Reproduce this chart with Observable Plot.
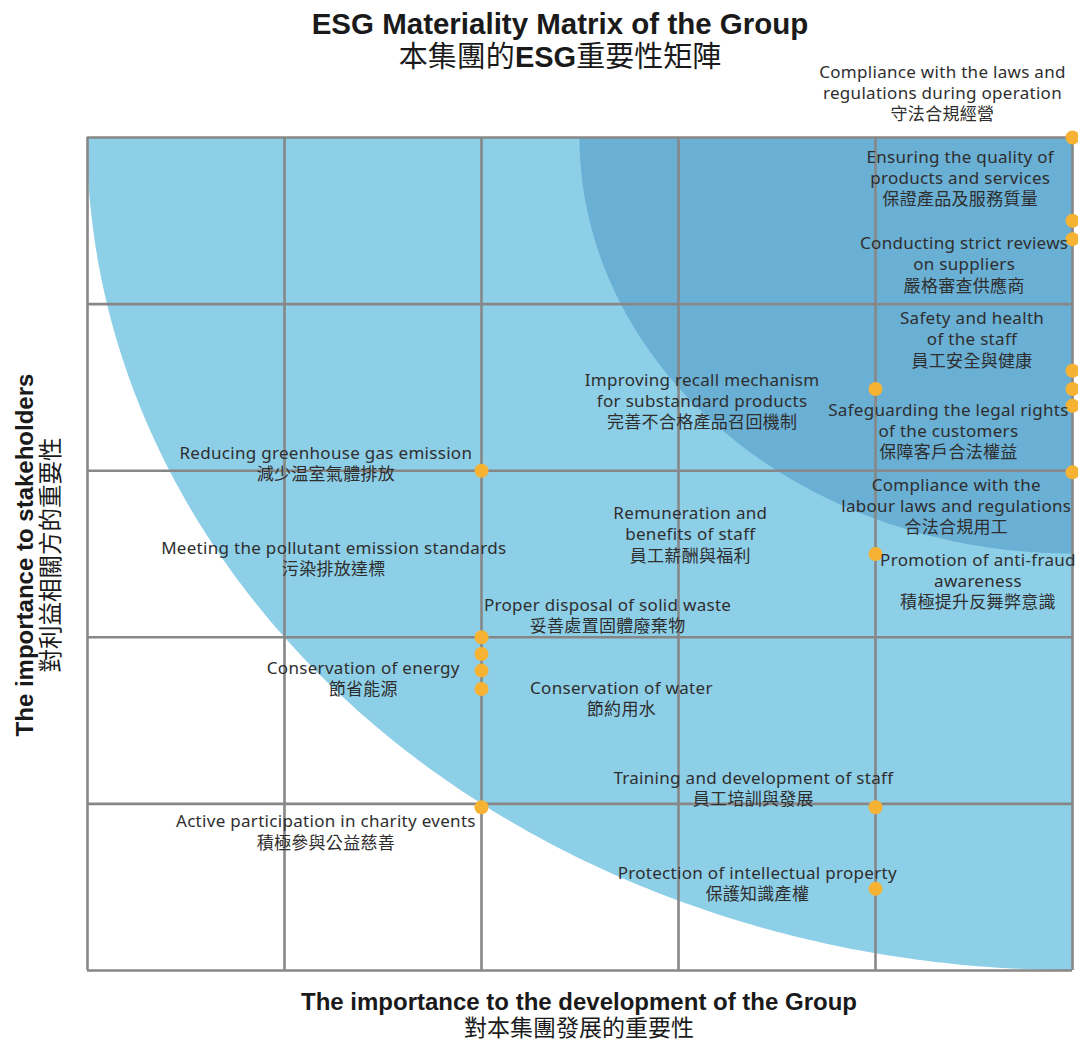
<!DOCTYPE html>
<html><head><meta charset="utf-8">
<script src="https://cdn.jsdelivr.net/npm/d3@7"></script>
<script src="https://cdn.jsdelivr.net/npm/@observablehq/plot@0.6"></script>
<style>
body{margin:0;background:#fff;}
#wrap{position:relative;width:1078px;height:1042px;font-family:"Liberation Sans",Arial,sans-serif;color:#1a1a1a;overflow:hidden;}
#chart{position:absolute;left:0;top:0;}
#chart svg text{letter-spacing:0.3px;}
.t{position:absolute;text-align:center;font-weight:bold;white-space:nowrap;}
.zh{font-family:"Noto Sans CJK TC","Liberation Sans",sans-serif;font-weight:normal;}
</style>
</head><body>
<div id="wrap">
  <div id="chart"></div>
  <div class="t" style="left:0;width:1120px;top:8px;font-size:29.5px;line-height:31px;">ESG Materiality Matrix of the Group<br><span class="zh" style="font-size:29px;">本集團的<b style="font-family:'Liberation Sans',Arial,sans-serif;">ESG</b>重要性矩陣</span></div>
  <div class="t" style="left:-213px;top:530px;width:500px;font-size:24px;line-height:25px;transform:rotate(-90deg);transform-origin:250px 25px;">The importance to stakeholders<br><span class="zh" style="font-size:23.5px;">對利益相關方的重要性</span></div>
  <div class="t" style="left:279px;top:989px;width:600px;font-size:24px;line-height:25px;">The importance to the development of the Group<br><span class="zh" style="font-size:23px;">對本集團發展的重要性</span></div>
</div>
<script>
// grid ticks (importance scale 0–5)
const xTicks = [0, 1, 2, 3, 4, 5];
const yTicks = [0, 1, 2, 3, 4, 5];

// background bands: quarter circles around the top-right corner
const bandNames = ["outer", "inner"];
const bandRadius = [5, 2.5];
const bandFill = ["#8ecfe8", "#6aafd4"];
const bandCenterX = 5, bandCenterY = 5;

// material issues (dots)
const pointX = [5, 5, 5, 5, 5, 5, 5, 4, 4, 2, 2, 2, 2, 2, 2, 4, 4];
const pointY = [5, 4.5, 4.39, 3.6, 3.49, 3.39, 2.99, 3.49, 2.5, 3.0, 2.0, 1.9, 1.8, 1.69, 0.98, 0.98, 0.49];

// labels
const labelText = [
  "Compliance with the laws and\nregulations during operation\n守法合規經營",
  "Ensuring the quality of\nproducts and services\n保證產品及服務質量",
  "Conducting strict reviews\non suppliers\n嚴格審查供應商",
  "Safety and health\nof the staff\n員工安全與健康",
  "Improving recall mechanism\nfor substandard products\n完善不合格產品召回機制",
  "Safeguarding the legal rights\nof the customers\n保障客戶合法權益",
  "Reducing greenhouse gas emission\n減少温室氣體排放",
  "Compliance with the\nlabour laws and regulations\n合法合規用工",
  "Remuneration and\nbenefits of staff\n員工薪酬與福利",
  "Meeting the pollutant emission standards\n污染排放達標",
  "Promotion of anti-fraud\nawareness\n積極提升反舞弊意識",
  "Proper disposal of solid waste\n妥善處置固體廢棄物",
  "Conservation of energy\n節省能源",
  "Conservation of water\n節約用水",
  "Training and development of staff\n員工培訓與發展",
  "Active participation in charity events\n積極參與公益慈善",
  "Protection of intellectual property\n保護知識產權"
];
const labelX = [4.34, 4.43, 4.45, 4.49, 3.12, 4.37, 1.21, 4.41, 3.06, 1.25, 4.52, 2.64, 1.40, 2.71, 3.38, 1.21, 3.40];
const labelY = [5.45, 4.94, 4.42, 3.97, 3.60, 3.42, 3.16, 2.97, 2.80, 2.59, 2.52, 2.25, 1.87, 1.75, 1.21, 0.95, 0.64];

// build tables
const arcs = [];
bandNames.forEach((name, i) => {
  for (let a = 0; a <= 180; a++) {
    const t = (a / 180) * Math.PI / 2;
    arcs.push({band: name, x: bandCenterX - bandRadius[i] * Math.cos(t), y: bandCenterY - bandRadius[i] * Math.sin(t)});
  }
});
const points = pointX.map((x, i) => ({x, y: pointY[i]}));
const labels = labelText.map((text, i) => ({text, x: labelX[i], y: labelY[i]}));

const chart = Plot.plot({
  width: 1078, height: 1042,
  marginTop: 137, marginBottom: 72, marginLeft: 87, marginRight: 6,
  x: {domain: [0, 5], axis: null},
  y: {domain: [0, 5], axis: null},
  style: {background: "transparent", overflow: "visible"},
  marks: [
    ...bandNames.map((name, i) => Plot.areaY(arcs.filter(d => d.band === name), {x: "x", y1: "y", y2: bandCenterY, fill: bandFill[i], curve: "linear"})),
    Plot.ruleX(xTicks, {stroke: "#878787", strokeWidth: 2.6}),
    Plot.ruleY(yTicks, {stroke: "#878787", strokeWidth: 2.6}),
    Plot.dot(points, {x: "x", y: "y", r: 7, fill: "#f6b233", stroke: "none"}),
    Plot.text(labels, {x: "x", y: "y", text: "text", lineAnchor: "top", lineHeight: 1.25, fontSize: 17,
      fill: "#2e2e2e", fontFamily: "'Noto Sans','Noto Sans CJK TC',sans-serif", textAnchor: "middle"})
  ]
});
document.getElementById("chart").appendChild(chart);
</script>
</body></html>
